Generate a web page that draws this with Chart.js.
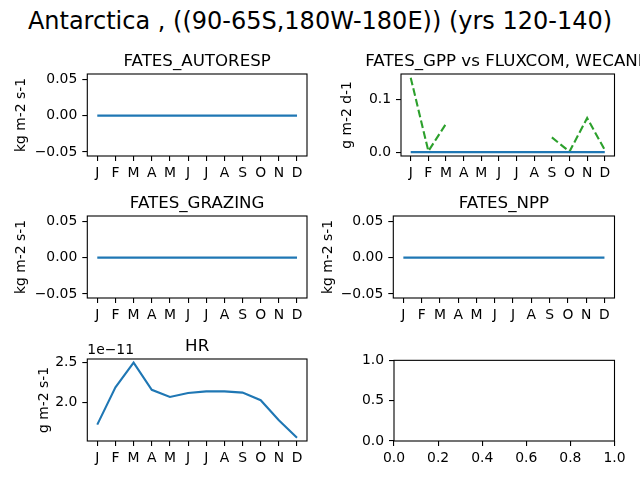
<!DOCTYPE html>
<html>
<head>
<meta charset="utf-8">
<script src="https://cdn.jsdelivr.net/npm/chart.js@4.4.1/dist/chart.umd.min.js"></script>
<style>
  html, body { margin: 0; padding: 0; background: #fff; }
  body { width: 640px; height: 480px; position: relative; overflow: hidden; }
  #suptitle {
    position: absolute; left: 0; top: 9px; width: 640px; text-align: center;
    font-family: "DejaVu Sans"; font-size: 24px; line-height: 24px; color: #000;
  }
  canvas { position: absolute; }
</style>
</head>
<body>
<div id="suptitle">Antarctica , ((90-65S,180W-180E)) (yrs 120-140)</div>
<script>
// data
const months = ['J', 'F', 'M', 'A', 'M', 'J', 'J', 'A', 'S', 'O', 'N', 'D'];
const autoresp = [0, 0, 0, 0, 0, 0, 0, 0, 0, 0, 0, 0];
const gpp = [0, 0, 0, 0, 0, 0, 0, 0, 0, 0, 0, 0];
const gppObs = [0.142, 0.002, 0.054, null, null, null, null, null, 0.028, 0.001, 0.065, 0.004];
const grazing = [0, 0, 0, 0, 0, 0, 0, 0, 0, 0, 0, 0];
const npp = [0, 0, 0, 0, 0, 0, 0, 0, 0, 0, 0, 0];
const hr = [1.725e-11, 2.19e-11, 2.50e-11, 2.16e-11, 2.07e-11, 2.12e-11, 2.14e-11, 2.14e-11, 2.125e-11, 2.03e-11, 1.78e-11, 1.56e-11];

const zeroTicks = [-0.05, 0, 0.05];
const gppTicks = [0, 0.1];
const hrTicks = [2.0e-11, 2.5e-11];
const unitTicks = [0, 0.5, 1];
const unitTicksX = [0, 0.2, 0.4, 0.6, 0.8, 1];

const BLUE = '#1f77b4';
const GREEN = '#2ca02c';
const FONT = 'DejaVu Sans';

Chart.defaults.color = '#000';
Chart.defaults.font.family = FONT;
Chart.defaults.font.size = 13.9;

// draws the full axes box, the axes title and the offset text (1e-11)
// title is drawn here so a long one is clipped by the canvas, not squeezed
const frame = {
    id: 'frame',
    afterDraw(chart, args, opts) {
        const ctx = chart.ctx;
        const a = chart.chartArea;
        ctx.save();
        ctx.strokeStyle = '#000';
        ctx.lineWidth = 1.1;
        ctx.strokeRect(a.left, a.top, a.right - a.left, a.bottom - a.top);
        ctx.fillStyle = '#000';
        ctx.textBaseline = 'alphabetic';
        if (opts.title) {
            ctx.font = '16.67px "' + FONT + '"';
            ctx.textAlign = 'center';
            ctx.fillText(opts.title, (a.left + a.right) / 2, a.top - 8.3);
        }
        if (opts.offsetText) {
            ctx.font = '13.9px "' + FONT + '"';
            ctx.textAlign = 'left';
            ctx.fillText(opts.offsetText, a.left, a.top - 5);
        }
        ctx.restore();
    }
};

function pts(values) {
    return values.map((v, i) => ({ x: i, y: v }));
}

function line(values, color, dashed) {
    return {
        data: pts(values),
        borderColor: color,
        borderWidth: 2.1,
        borderDash: dashed ? [7.7, 3.3] : [],
        pointRadius: 0,
        tension: 0,
        spanGaps: false,
        fill: false
    };
}

function panel(p) {
    const [axL, axT, axR, axB] = p.ax;
    const scaleLeft = p.ylabX != null ? p.ylabX - 8.3 : axL - 45;
    const cLeft = Math.floor(scaleLeft) - 4;
    const cRight = Math.min(axR + 26, 640);
    const cTop = p.title ? axT - 30 : axT - 12;
    const cBottom = axB + 26;

    const canvas = document.createElement('canvas');
    canvas.width = cRight - cLeft;
    canvas.height = cBottom - cTop;
    canvas.style.left = cLeft + 'px';
    canvas.style.top = cTop + 'px';
    document.body.appendChild(canvas);

    const tickGrid = { display: true, drawOnChartArea: false, drawTicks: true, tickLength: 5, color: '#000', lineWidth: 1.1 };

    new Chart(canvas.getContext('2d'), {
        type: 'line',
        data: { datasets: p.datasets },
        options: {
            responsive: false,
            animation: false,
            devicePixelRatio: 1,
            layout: {
                padding: { left: scaleLeft - cLeft, right: cRight - axR, top: axT - cTop, bottom: 0 }
            },
            plugins: {
                legend: { display: false },
                tooltip: { enabled: false },
                title: { display: false },
                frame: { title: p.title || '', offsetText: p.offsetText || '' }
            },
            scales: {
                x: {
                    type: 'linear',
                    min: p.xMin,
                    max: p.xMax,
                    grid: tickGrid,
                    border: { display: false },
                    ticks: {
                        padding: 4,
                        maxRotation: 0,
                        autoSkip: false,
                        callback: p.xLabel
                    },
                    afterBuildTicks: s => { s.ticks = p.xTicks.map(v => ({ value: v })); },
                    afterFit: s => { s.height = cBottom - axB; }
                },
                y: {
                    type: 'linear',
                    min: p.yMin,
                    max: p.yMax,
                    grid: tickGrid,
                    border: { display: false },
                    title: {
                        display: !!p.ylab,
                        text: p.ylab || '',
                        color: '#000',
                        font: { size: 13.9, family: FONT, lineHeight: 1.2 },
                        padding: { top: 0, bottom: 0 }
                    },
                    ticks: {
                        padding: 5,
                        autoSkip: false,
                        callback: p.yLabel
                    },
                    afterBuildTicks: s => { s.ticks = p.yTicks.map(v => ({ value: v })); },
                    afterFit: s => { s.width = axL - scaleLeft; }
                }
            }
        },
        plugins: [frame]
    });
}

const monthTick = v => months[Math.round(v)];
const fmt2 = v => (v < 0 ? '\u2212' : '') + Math.abs(v).toFixed(2);
const fmt1 = v => v.toFixed(1);
const fmtHr = v => (v / 1e-11).toFixed(1);
const monthAxis = { xMin: -0.55, xMax: 11.55, xTicks: months.map((m, i) => i), xLabel: monthTick };
const zeroAxis = { yMin: -0.0555, yMax: 0.0572, yTicks: zeroTicks, yLabel: fmt2 };

panel(Object.assign({
    ax: [87.3, 74, 307.3, 156.7], title: 'FATES_AUTORESP', ylab: 'kg m-2 s-1', ylabX: 21,
    datasets: [line(autoresp, BLUE)]
}, monthAxis, zeroAxis));

panel(Object.assign({
    ax: [401, 74, 614.5, 156.7], title: 'FATES_GPP vs FLUXCOM, WECANN', ylab: 'g m-2 d-1', ylabX: 347,
    datasets: [line(gpp, BLUE), line(gppObs, GREEN, true)],
    yMin: -0.0074, yMax: 0.149, yTicks: gppTicks, yLabel: fmt1
}, monthAxis));

panel(Object.assign({
    ax: [87.3, 216.3, 307.3, 298.7], title: 'FATES_GRAZING', ylab: 'kg m-2 s-1', ylabX: 21,
    datasets: [line(grazing, BLUE)]
}, monthAxis, zeroAxis));

panel(Object.assign({
    ax: [393.3, 216.3, 614.5, 298.7], title: 'FATES_NPP', ylab: 'kg m-2 s-1', ylabX: 328,
    datasets: [line(npp, BLUE)]
}, monthAxis, zeroAxis));

panel(Object.assign({
    ax: [87.3, 358.7, 307.3, 440.7], title: 'HR', ylab: 'g m-2 s-1', ylabX: 44, offsetText: '1e\u221211',
    datasets: [line(hr, BLUE)],
    yMin: 1.52e-11, yMax: 2.545e-11, yTicks: hrTicks, yLabel: fmtHr
}, monthAxis));

panel({
    ax: [394, 358.7, 614.5, 441],
    datasets: [],
    xMin: 0, xMax: 1, xTicks: unitTicksX, xLabel: fmt1,
    yMin: 0, yMax: 1, yTicks: unitTicks, yLabel: fmt1
});
</script>
</body>
</html>
